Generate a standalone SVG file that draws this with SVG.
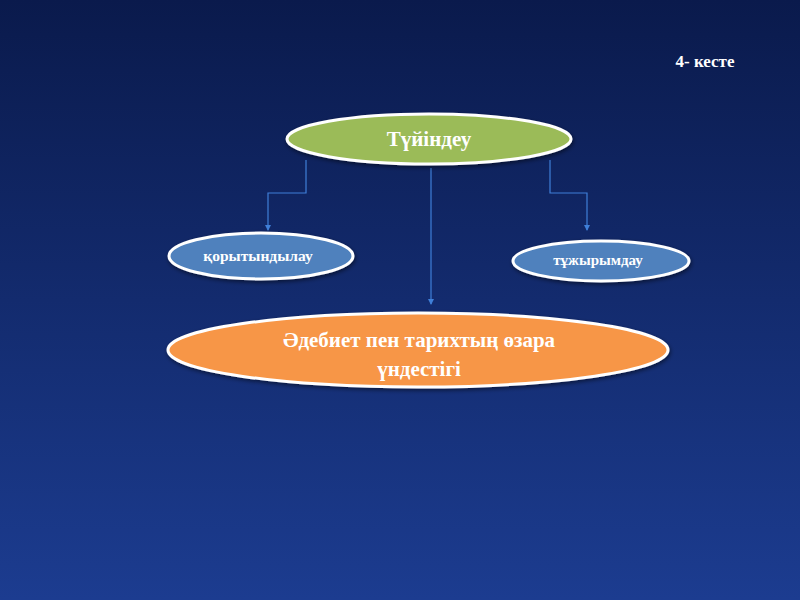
<svg xmlns="http://www.w3.org/2000/svg" width="800" height="600" viewBox="0 0 800 600">
<defs>
<linearGradient id="bg" x1="0" y1="0" x2="0" y2="1">
<stop offset="0" stop-color="#0a1a4c"/>
<stop offset="1" stop-color="#1c3c90"/>
</linearGradient>
<filter id="sh" x="-10%" y="-30%" width="120%" height="160%">
<feDropShadow dx="1" dy="2" stdDeviation="2" flood-color="#000" flood-opacity="0.5"/>
</filter>
<marker id="arr" markerWidth="6" markerHeight="6" refX="5" refY="3" orient="auto" markerUnits="userSpaceOnUse">
<path d="M0,0 L6,3 L0,6 z" fill="#3f7fd8"/>
</marker>
<style>
.node ellipse{stroke:#ffffff;stroke-width:3;filter:url(#sh)}
.t{font-family:"Liberation Serif","DejaVu Serif",serif;font-weight:bold;fill:#ffffff;text-anchor:middle}
.c{fill:none;stroke:#3f7fd8;stroke-width:1.2}
</style>
</defs>
<rect width="800" height="600" fill="url(#bg)"/>
<text class="t" x="705" y="67" font-size="17">4- кесте</text>
<g id="connectors">
<path class="c" d="M306,160 V193 H268 V230" marker-end="url(#arr)"/>
<path class="c" d="M550,160 V193 H587 V230" marker-end="url(#arr)"/>
<path class="c" d="M431,168 V304" marker-end="url(#arr)"/>
</g>
<g id="n-tuiindeu" class="node">
<ellipse cx="429" cy="139" rx="142" ry="25" fill="#9bbb59"/>
<text class="t" x="429" y="146" font-size="21">Түйіндеу</text>
</g>
<g id="n-korytyndylau" class="node">
<ellipse cx="261" cy="256" rx="92" ry="23" fill="#4f81bd"/>
<text class="t" x="258" y="261" font-size="15.5">қорытындылау</text>
</g>
<g id="n-tuzhyrymdau" class="node">
<ellipse cx="601" cy="261" rx="88" ry="20" fill="#4f81bd"/>
<text class="t" x="598" y="265" font-size="15">тұжырымдау</text>
</g>
<g id="n-adebiet" class="node">
<ellipse cx="418" cy="350" rx="250" ry="37" fill="#f79646"/>
<text class="t" x="419" y="347" font-size="21">Әдебиет пен тарихтың өзара</text>
<text class="t" x="419" y="376" font-size="21">үндестігі</text>
</g>
</svg>
